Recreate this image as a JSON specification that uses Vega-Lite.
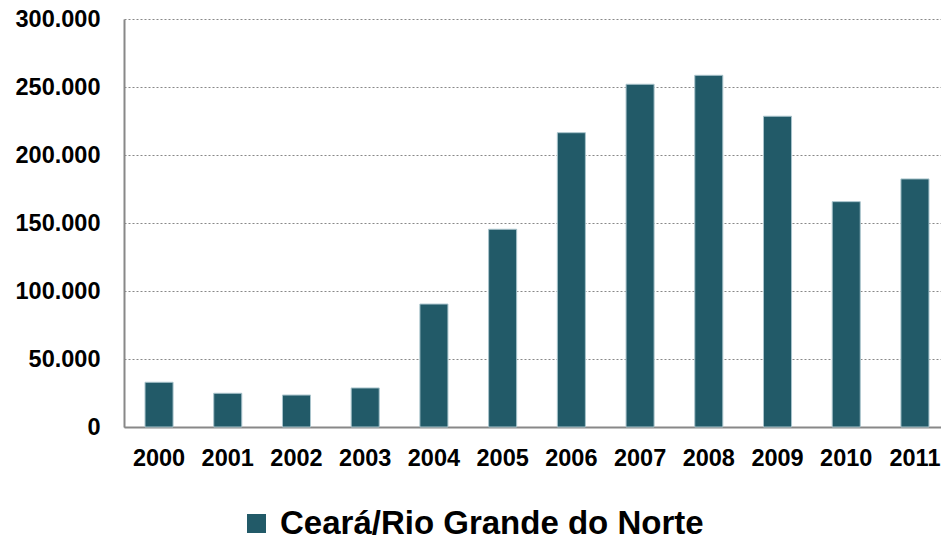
{
  "$schema": "https://vega.github.io/schema/vega-lite/v6.json",
  "width": 826,
  "height": 408,
  "autosize": {"type": "none"},
  "padding": {"left": 124, "top": 19, "right": 0, "bottom": 112},
  "background": "white",
  "data": {
    "values": [
      {"ano": "2000", "serie": "Ceará/Rio Grande do Norte", "valor": 32900},
      {"ano": "2001", "serie": "Ceará/Rio Grande do Norte", "valor": 24800},
      {"ano": "2002", "serie": "Ceará/Rio Grande do Norte", "valor": 23500},
      {"ano": "2003", "serie": "Ceará/Rio Grande do Norte", "valor": 28700},
      {"ano": "2004", "serie": "Ceará/Rio Grande do Norte", "valor": 90400},
      {"ano": "2005", "serie": "Ceará/Rio Grande do Norte", "valor": 145400},
      {"ano": "2006", "serie": "Ceará/Rio Grande do Norte", "valor": 216400},
      {"ano": "2007", "serie": "Ceará/Rio Grande do Norte", "valor": 252000},
      {"ano": "2008", "serie": "Ceará/Rio Grande do Norte", "valor": 258600},
      {"ano": "2009", "serie": "Ceará/Rio Grande do Norte", "valor": 228500},
      {"ano": "2010", "serie": "Ceará/Rio Grande do Norte", "valor": 165700},
      {"ano": "2011", "serie": "Ceará/Rio Grande do Norte", "valor": 182400}
    ]
  },
  "mark": {"type": "bar", "stroke": "#a9c4cc", "strokeWidth": 1},
  "encoding": {
    "x": {
      "field": "ano",
      "type": "ordinal",
      "scale": {"paddingInner": 0.592, "paddingOuter": 0.306},
      "axis": {
        "title": null,
        "labelAngle": 0,
        "ticks": false,
        "domainColor": "#888888",
        "domainWidth": 2,
        "labelFont": "Liberation Sans",
        "labelFontWeight": "bold",
        "labelFontSize": 23.5,
        "labelColor": "#000000",
        "labelPadding": 19
      }
    },
    "y": {
      "field": "valor",
      "type": "quantitative",
      "scale": {"domain": [0, 300000], "nice": false},
      "axis": {
        "title": null,
        "values": [0, 50000, 100000, 150000, 200000, 250000, 300000],
        "labelExpr": "replace(format(datum.value, ','), ',', '.')",
        "ticks": false,
        "domainColor": "#888888",
        "domainWidth": 2,
        "grid": true,
        "gridColor": "#888888",
        "gridDash": [2, 2],
        "gridWidth": 1,
        "labelFont": "Liberation Sans",
        "labelFontWeight": "bold",
        "labelFontSize": 23.5,
        "labelColor": "#000000",
        "labelPadding": 24
      }
    },
    "color": {
      "field": "serie",
      "type": "nominal",
      "scale": {"range": ["#225a68"]},
      "legend": {
        "title": null,
        "orient": "none",
        "legendX": 116,
        "legendY": 488,
        "padding": 0,
        "symbolType": "square",
        "symbolSize": 361,
        "symbolStrokeWidth": 0,
        "labelFont": "Liberation Sans",
        "labelFontWeight": "bold",
        "labelFontSize": 33,
        "labelColor": "#000000",
        "labelOffset": 7,
        "labelLimit": 700
      }
    }
  },
  "config": {"view": {"stroke": null}}
}
